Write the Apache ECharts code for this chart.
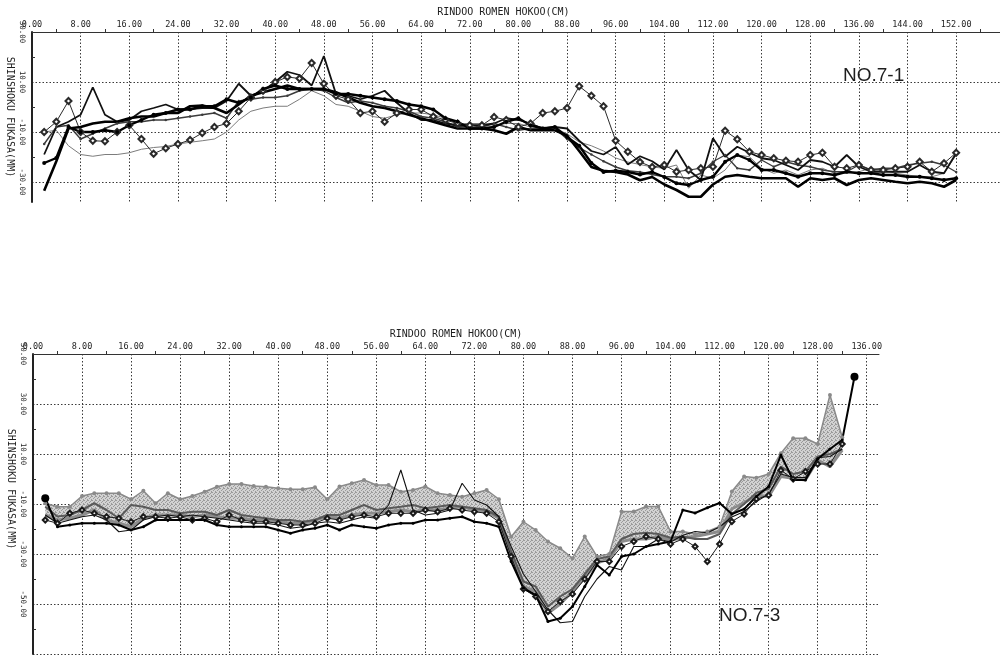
<!DOCTYPE html>
<html>
<head>
<meta charset="utf-8">
<script src="https://cdn.jsdelivr.net/npm/echarts@6/dist/echarts.min.js"></script>
<style>
html,body{margin:0;padding:0;background:#fff;}
#chart{width:1000px;height:656px;}
</style>
</head>
<body>
<div id="chart"></div>
<script>
// ---- Upper panel: NO.7-1 (distance 2..152 cm) ----
const TOP_X = [2,4,6,8,10,12,14,16,18,20,22,24,26,28,30,32,34,36,38,40,42,44,46,48,50,52,54,56,58,60,62,64,66,68,70,72,74,76,78,80,82,84,86,88,90,92,94,96,98,100,102,104,106,108,110,112,114,116,118,120,122,124,126,128,130,132,134,136,138,140,142,144,146,148,150,152];
const TOP_X_TICKS = [0,8,16,24,32,40,48,56,64,72,80,88,96,104,112,120,128,136,144,152];
const TOP_X_MINOR = [4,12,20,28,36,44,52,60,68,76,84,92,100,108,116,124,132,140,148,156];
const TOP_Y_TICKS = [30,10,-10,-30];
const TOP_Y_MINOR = [20,0,-20];

const TOP_A = [-22.4,-20.4,-8,-10,-10,-9.3,-10,-7.3,-5.2,-3.1,
  -2.4,-1,-1,0.3,0.3,3.1,1.7,3.8,7.2,8.6,
  7.2,7.2,7.2,7.2,5.2,5.2,4.5,3.8,3.1,2.4,
  1,0.3,-1,-4.5,-5.9,-8.6,-8.6,-8,-5.9,-4.5,
  -7.3,-8.6,-8,-12,-15.5,-22.4,-26,-25.5,-26,-27,
  -26,-28,-30.5,-31.2,-29.2,-27.9,-21.9,-19.2,-21.2,-25.2,
  -25.2,-26.5,-27.9,-26.5,-26.5,-27.2,-25.9,-26.5,-26.5,-27.2,
  -27.2,-27.9,-27.9,-28.5,-29.2,-28.5];
const TOP_B = [-33.5,-21.7,-8.6,-8,-6.6,-5.9,-5.9,-4.5,-3.8,-3.8,
  -2.4,-2.4,0.3,0.6,-0.4,-2.4,1,4.5,5.9,7.2,
  8.6,7.2,7.2,7.2,5.9,3.8,1.7,0.3,-0.4,-1.7,
  -3.1,-4.5,-5.9,-7.3,-8.6,-8.6,-8.6,-9.3,-10.7,-8,
  -9.3,-9.3,-9.3,-11.4,-17.6,-24,-25.5,-26,-27,-29.3,
  -28,-31,-33.2,-35.9,-35.9,-31,-27.9,-27.2,-27.9,-28.5,
  -28.5,-28.5,-31.9,-28.5,-29.2,-28.5,-31.2,-29.2,-28.5,-29.2,
  -29.9,-30.5,-29.9,-30.5,-31.9,-29.2];
const TOP_C = [-19,-8,-5.9,-3.1,7.9,-3.1,-5.9,-5.2,-1.7,-0.4,
  1,-1,-0.8,-0.4,-0.4,2.4,9.3,4.5,6.5,10,
  14.1,12.8,8.6,20.4,5.2,4.5,3.1,4.5,6.5,1.7,
  -2.4,-5.2,-5.2,-6.6,-7.3,-7.3,-7.3,-6.6,-4.5,-5.2,
  -6.6,-8.6,-8,-8.6,-13.5,-17.6,-19,-16,-23,-19.7,
  -21.7,-25,-17.2,-25.2,-29.2,-12.5,-19.9,-15.9,-18.3,-20.5,
  -21.2,-23.2,-25.2,-21.2,-21.9,-23.9,-19.2,-23.9,-25.9,-25.9,
  -25.9,-25.9,-23.2,-25.9,-26.5,-18.5];
const TOP_D = [-10,-5.9,2.4,-10,-13.5,-13.7,-10,-7.3,-12.8,-18.7,
  -16.5,-14.8,-13.2,-10.4,-8,-6.6,-1.7,3.8,6.5,10,
  12,11.4,17.6,9.3,4.5,3.1,-2.4,-1.7,-5.9,-2.4,
  -1,-1,-3.8,-5.2,-6.6,-7.3,-7.3,-4,-5.2,-8,
  -6.6,-2.4,-1.7,-0.4,8.3,4.5,0.3,-13.5,-17.9,-22,
  -24,-23.2,-25.9,-25.2,-24.5,-23.9,-9.5,-12.9,-17.9,-19.2,
  -20.5,-21.5,-21.9,-19.2,-18.3,-23.9,-24.5,-23.2,-25.2,-25.2,
  -24.5,-23.9,-21.9,-25.9,-22.5,-18.3];
const TOP_E = [-10,-9.3,-15.5,-19,-19.7,-19,-19,-18.3,-16.9,-16.2,
  -15.8,-14.8,-14.1,-13.5,-12.8,-10,-5.2,-1.7,-0.4,0.3,
  0.3,3.1,6.5,4.5,1,0.3,-1.7,-3.8,-4.5,-3.1,
  -2.4,-2.4,-3.1,-4.5,-6.6,-6.6,-6.6,-7.3,-6.6,-6.6,
  -8,-8,-8.6,-10.7,-14,-15.5,-17.6,-20.4,-22,-23,
  -24,-24.5,-23.2,-32.5,-27.2,-28.5,-25.2,-19.2,-19.9,-24.5,
  -26.5,-25.2,-27.2,-25.2,-24.5,-26.5,-26.5,-25.9,-24.5,-25.2,
  -26.5,-27.2,-27.9,-27.9,-26.5,-19.2];
const TOP_F = [-14.8,-8,-7.3,-12.8,-10.7,-8.6,-6.6,-5.9,-5.9,-5.2,
  -5.2,-4.5,-3.8,-3.1,-2.4,-4.5,2.4,3.1,3.8,3.8,
  4.5,6.5,7.2,6.5,3.8,1.7,2.4,1.7,0.3,-0.4,
  -1.7,-3.8,-4.5,-5.9,-8,-7.3,-8,-6.6,-8,-9.3,
  -8.6,-8.6,-8.6,-12.8,-16.2,-19,-21.7,-24,-25.5,-26,
  -27,-27.9,-27.9,-28.5,-26.5,-21.9,-19.2,-24.5,-25.2,-21.2,
  -23.9,-21.9,-23.2,-23.9,-25.2,-25.9,-25.9,-23.2,-25.2,-24.5,
  -24.5,-23.2,-22.5,-21.9,-23.2,-26];

// ---- Lower panel: NO.7-3 (distance 2..134 cm) ----
const BOT_X = [2,4,6,8,10,12,14,16,18,20,22,24,26,28,30,32,34,36,38,40,42,44,46,48,50,52,54,56,58,60,62,64,66,68,70,72,74,76,78,80,82,84,86,88,90,92,94,96,98,100,102,104,106,108,110,112,114,116,118,120,122,124,126,128,130,132,134];
const BOT_X_TICKS = [0,8,16,24,32,40,48,56,64,72,80,88,96,104,112,120,128,136];
const BOT_X_MINOR = [4,12,20,28,36,44,52,60,68,76,84,92,100,108,116,124,132];
const BOT_Y_TICKS = [50,30,10,-10,-30,-50,-70];
const BOT_Y_LABELS = [50,30,10,-10,-30,-50];
const BOT_Y_MINOR = [40,20,0,-20,-40,-60];

const BOT_UPPER = [-9.7,-11.1,-11.1,-6.8,-5.7,-5.7,-5.7,-8.1,-4.7,-9.7,
  -5.7,-8.1,-6.8,-5.1,-3.1,-2,-2,-2.8,-3.1,-3.7,
  -4.1,-4.1,-3.3,-8.1,-3,-1.7,-0.4,-2.4,-2.4,-5.1,
  -4.4,-3,-5.7,-6.4,-7.1,-5.7,-4.4,-8.1,-23.1,-17.1,
  -20.4,-25,-27.7,-31.7,-23,-31,-30,-13,-13,-11,
  -11,-21,-21,-22,-21,-19,-5,1,0.5,2,
  10.3,16.3,16.3,14,33.6,16.7,null];
const BOT_LOWER = [-14.4,-16.4,-15.7,-14.4,-12.4,-16.4,-17.7,-19.1,-15.7,-14.4,
  -14.4,-14.4,-15.1,-14.4,-15.1,-15.7,-15.7,-16.4,-16.4,-17.1,
  -17.7,-17.7,-16.4,-15.1,-15.7,-14.4,-13.7,-13.7,-13.1,-12.4,
  -13.1,-12.4,-12.4,-11.7,-11.1,-12.4,-13.1,-15.7,-30,-43,
  -45,-53.7,-50,-45,-39.5,-33.5,-32,-25,-24,-24,
  -23,-24.5,-23.5,-23,-22,-21,-12,-9.5,-6.5,-7,
  1,0.3,-0.4,7.6,4.9,11.6,null];
const BOT_GRAY = [-11.1,-15,-14.4,-12.4,-9.7,-12.4,-15.7,-10.4,-11.1,-12.4,
  -12.4,-13.7,-13.1,-13.1,-14.4,-12.4,-14.4,-15.1,-15.7,-16.4,
  -16.4,-17.1,-16.4,-14.4,-14.4,-12.4,-10.4,-12.4,-11.7,-11.1,
  -10.4,-11.7,-11.1,-10.4,-11.1,-11.7,-12.4,-15.1,-29,-41,
  -43,-51,-47,-44,-38,-32,-31,-24,-22,-21.5,
  -22,-23.5,-23,-24,-24,-22,-14,-10,-5.5,-4,
  5,2,3,9,10,12,null];
const BOT_DIAMOND = [-16.4,-17.7,-13.7,-12.4,-13.7,-15.1,-15.7,-17.1,-15.1,-15.1,
  -15.7,-15.1,-16.4,-15.7,-17.1,-14.4,-16.4,-17.1,-17.1,-17.7,
  -18.4,-18.4,-17.7,-15.7,-16.4,-15.1,-14.4,-15.1,-13.7,-13.7,
  -13.7,-12.4,-13.1,-11.7,-12.4,-13.1,-13.7,-17.1,-31,-44,
  -47,-53,-49,-46,-40,-33,-33,-27,-25,-23,
  -24,-26,-24,-27,-33,-26,-17,-14,-8,-6.5,
  3.5,0,3,6,6,14,null];
const BOT_THIN = [-14.4,-17.7,-16.4,-15.1,-14.4,-16.4,-21.1,-20.4,-16.4,-15.1,
  -14.4,-15.1,-14.4,-15.1,-15.7,-16.4,-17.1,-17.7,-17.7,-18.4,
  -19.7,-19.1,-17.7,-17.1,-17.7,-16.4,-15.1,-15.7,-10.4,3.6,
  -12.4,-14.4,-13.7,-12.4,-1.7,-8.4,-10.4,-15.1,-27,-38,
  -45,-52.4,-57.5,-57,-47,-40,-35,-36.4,-27,-27,
  -24,-25.2,-22.5,-21,-21.5,-19.2,-15.2,-13,-9,-6,
  2,0.6,0.6,8.5,9,12,null];
const BOT_HEAVY = [-7.7,-19.1,-18.4,-17.7,-17.7,-17.7,-18.4,-20.4,-19.1,-16.4,
  -16.4,-16.4,-16.4,-16.4,-18.4,-19.1,-19.1,-19.1,-19.1,-20.4,
  -21.7,-20.4,-19.7,-18.4,-20.4,-18.4,-19.1,-19.7,-18.4,-17.7,
  -17.7,-16.4,-16.4,-15.7,-15.1,-17.1,-17.7,-19.1,-33,-43.7,
  -46.4,-57,-55.7,-51,-43,-34.4,-38.4,-31,-30,-27,
  -26,-25,-12.4,-13.6,-11.5,-9.6,-14,-12,-7,-3,
  9.6,-0.4,-0.4,8,12,15.6,40.9];

const X_TITLE = 'RINDOO ROMEN HOKOO(CM)';
const Y_TITLE = 'SHINSHOKU FUKASA(MM)';

const MONO = 'DejaVu Sans Mono';
const INK = '#1e1e1e';
const GRID_LINE = {color: '#3a3a3a', width: 1, type: [1.5, 2]};

function pairs(xs, ys) { return ys.map((v, i) => [xs[i], v]); }
function fmt(v) { return Number(v).toFixed(2); }

function mainX(grid, max, ticks, nameShift) {
  return {
    gridIndex: grid, type: 'value', position: 'top', min: 0, max: max,
    axisLine: {onZero: false, lineStyle: {color: '#333', width: 1}},
    axisTick: {show: false, customValues: ticks},
    axisLabel: {customValues: ticks, formatter: fmt, fontFamily: MONO, fontSize: 8.5, color: INK, margin: 3},
    splitLine: {show: true, lineStyle: GRID_LINE},
    name: X_TITLE, nameLocation: 'middle', nameGap: 15,
    nameTextStyle: {fontFamily: MONO, fontSize: 10, color: INK, padding: [0, nameShift, 0, 0]}
  };
}
function minorX(grid, max, ticks) {
  return {
    gridIndex: grid, type: 'value', position: 'top', min: 0, max: max,
    axisLine: {show: false, onZero: false},
    axisTick: {show: true, customValues: ticks, length: 3, lineStyle: {color: '#333', width: 1}},
    axisLabel: {show: false}, splitLine: {show: false}
  };
}
function mainY(grid, min, max, ticks, labels, nameShift) {
  return {
    gridIndex: grid, type: 'value', position: 'left', min: min, max: max,
    axisLine: {onZero: false, lineStyle: {color: '#222', width: 2}},
    axisTick: {show: false, customValues: ticks},
    axisLabel: {customValues: labels, formatter: fmt, rotate: -90, fontFamily: MONO, fontSize: 7.5, color: INK, margin: 6},
    splitLine: {show: true, lineStyle: GRID_LINE},
    name: Y_TITLE, nameLocation: 'middle', nameRotate: -90, nameGap: 17, nameMoveOverlap: false,
    nameTextStyle: {fontFamily: MONO, fontSize: 10, color: INK, padding: [0, nameShift, 0, 0]}
  };
}
function minorY(grid, min, max, ticks) {
  return {
    gridIndex: grid, type: 'value', position: 'left', min: min, max: max,
    axisLine: {show: false, onZero: false},
    axisTick: {show: true, inside: true, customValues: ticks, length: 3, lineStyle: {color: '#333', width: 1}},
    axisLabel: {show: false}, splitLine: {show: false}
  };
}

function line(xi, yi, xs, ys, color, width, extra) {
  return Object.assign({
    type: 'line', xAxisIndex: xi, yAxisIndex: yi, data: pairs(xs, ys),
    symbol: 'none', lineStyle: {color: color, width: width}, itemStyle: {color: color},
    connectNulls: false, animation: false
  }, extra || {});
}

// Stippled gray fill for the band between the upper and lower gray traces
function stipple() {
  const c = document.createElement('canvas');
  c.width = 4; c.height = 4;
  const g = c.getContext('2d');
  g.fillStyle = '#d2d2d2'; g.fillRect(0, 0, 4, 4);
  g.fillStyle = '#9a9a9a';
  [[0,0],[2,1],[1,2],[3,3],[3,0]].forEach(p => g.fillRect(p[0], p[1], 1, 1));
  return c;
}
const bandFill = {image: stipple(), repeat: 'repeat'};

function bandRender(params, api) {
  const top = [], bottom = [];
  for (let i = 0; i < BOT_X.length; i++) {
    if (BOT_UPPER[i] == null || BOT_LOWER[i] == null) continue;
    top.push(api.coord([BOT_X[i], BOT_UPPER[i]]));
    bottom.push(api.coord([BOT_X[i], BOT_LOWER[i]]));
  }
  return {type: 'polygon', shape: {points: top.concat(bottom.reverse())}, style: {fill: bandFill, stroke: null}};
}

const heavyData = BOT_HEAVY.map((v, i) => ({
  value: [BOT_X[i], v],
  symbolSize: (i === 0 || i === BOT_HEAVY.length - 1) ? 8 : 3
}));

const chart = echarts.init(document.getElementById('chart'), null, {renderer: 'canvas'});
chart.setOption({
  backgroundColor: '#ffffff',
  animation: false,
  grid: [
    {left: 32, top: 32, width: 972.8, height: 170, containLabel: false, outerBoundsMode: 'none'},
    {left: 33, top: 354, width: 846, height: 300, containLabel: false, outerBoundsMode: 'none'}
  ],
  xAxis: [
    mainX(0, 160, TOP_X_TICKS, 30),
    minorX(0, 160, TOP_X_MINOR),
    mainX(1, 138, BOT_X_TICKS, 0),
    minorX(1, 138, BOT_X_MINOR)
  ],
  yAxis: [
    mainY(0, -38, 30, TOP_Y_TICKS, TOP_Y_TICKS, 0),
    minorY(0, -38, 30, TOP_Y_MINOR),
    mainY(1, -70, 50, BOT_Y_TICKS, BOT_Y_LABELS, 30),
    minorY(1, -70, 50, BOT_Y_MINOR)
  ],
  series: [
    // upper panel
    line(0, 0, TOP_X, TOP_E, '#7c7c7c', 1),
    line(0, 0, TOP_X, TOP_F, '#3c3c3c', 1.4, {symbol: 'circle', symbolSize: 2.5}),
    line(0, 0, TOP_X, TOP_D, '#2a2a2a', 1, {symbol: 'emptyDiamond', symbolSize: 6}),
    line(0, 0, TOP_X, TOP_C, '#111111', 1.8),
    line(0, 0, TOP_X, TOP_B, '#000000', 2.6),
    line(0, 0, TOP_X, TOP_A, '#000000', 2.4, {symbol: 'circle', symbolSize: 4}),
    // lower panel
    {type: 'custom', xAxisIndex: 2, yAxisIndex: 2, renderItem: bandRender,
     data: [[BOT_X[0], BOT_UPPER[0]]], clip: true, silent: true, z: 1},
    line(2, 2, BOT_X, BOT_LOWER, '#8c8c8c', 3),
    line(2, 2, BOT_X, BOT_UPPER, '#8a8a8a', 1.5, {symbol: 'circle', symbolSize: 4}),
    line(2, 2, BOT_X, BOT_GRAY, '#5a5a5a', 2),
    line(2, 2, BOT_X, BOT_DIAMOND, '#1a1a1a', 1, {symbol: 'emptyDiamond', symbolSize: 5}),
    line(2, 2, BOT_X, BOT_THIN, '#111111', 1.1),
    Object.assign(line(2, 2, BOT_X, BOT_HEAVY, '#000000', 2, {symbol: 'circle'}), {data: heavyData})
  ],
  graphic: [
    {type: 'text', left: 843, top: 66, style: {text: 'NO.7-1', fontFamily: 'Liberation Sans', fontSize: 19, fill: INK}},
    {type: 'text', left: 719, top: 606, style: {text: 'NO.7-3', fontFamily: 'Liberation Sans', fontSize: 19, fill: INK}}
  ]
});
</script>
</body>
</html>
